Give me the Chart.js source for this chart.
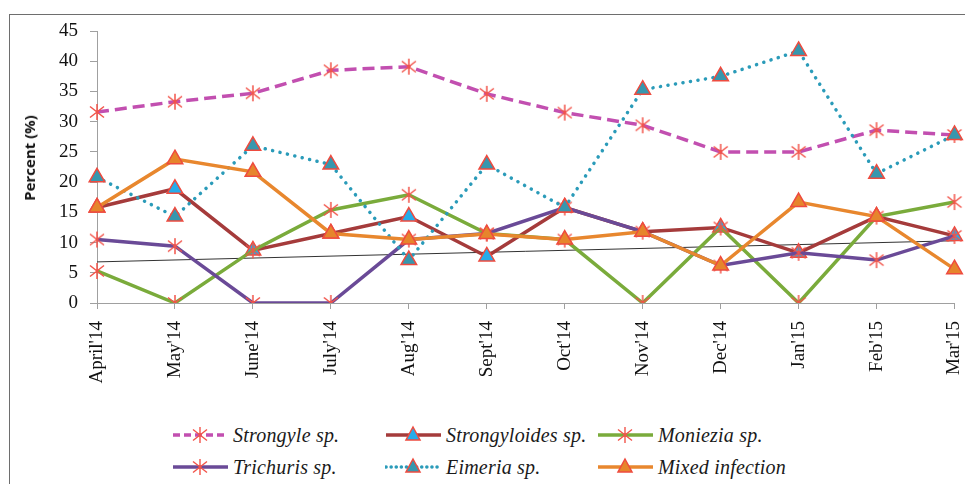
<!DOCTYPE html>
<html>
<head>
<meta charset="utf-8">
<script src="https://cdn.jsdelivr.net/npm/chart.js@4"></script>
<style>
  html, body { margin:0; padding:0; background:#fff; width:965px; height:484px; overflow:hidden; }
  #frame { position:absolute; left:9px; top:14px; width:1000px; height:520px; border:1px solid #6e6e6e; box-sizing:border-box; }
  #wrap { position:absolute; left:0; top:0; width:965px; height:400px; }
  #ytitle { position:absolute; left:29px; top:158px; transform:translate(-50%,-50%) rotate(-90deg); font-weight:bold; font-size:15px; font-family:"Open Sans", "Noto Sans", sans-serif; color:#111; white-space:nowrap; }
  .leg { position:absolute; display:flex; align-items:center; font-family:"Liberation Serif", "Times New Roman", Times, serif; font-style:italic; font-size:20px; letter-spacing:0.2px; color:#1a1a1a; white-space:nowrap; }
  .leg svg { margin-right:4px; }
</style>
</head>
<body>
<div id="frame"></div>
<div id="wrap"><canvas id="c" width="965" height="400"></canvas></div>
<div id="ytitle">Percent (%)</div>
<div id="legend"></div>
<script>
// ---- data ----
const months = ["April'14","May'14","June'14","July'14","Aug'14","Sept'14","Oct'14","Nov'14","Dec'14","Jan'15","Feb'15","Mar'15"];
const strongyle     = [31.6, 33.3, 34.7, 38.5, 39.1, 34.6, 31.5, 29.4, 25.0, 25.0, 28.6, 27.8];
const strongyloides = [15.8, 18.9, 8.7, 11.5, 14.3, 7.7, 15.8, 11.8, 12.5, 8.3, 14.3, 11.1];
const moniezia      = [5.3, 0, 8.7, 15.4, 17.9, 11.5, 10.5, 0, 12.5, 0, 14.3, 16.7];
const trichuris     = [10.5, 9.4, 0, 0, 10.5, 11.5, 15.8, 11.8, 6.2, 8.3, 7.1, 11.1];
const eimeria       = [20.8, 14.3, 26.0, 22.9, 7.1, 22.9, 15.8, 35.3, 37.5, 41.7, 21.4, 27.8];
const mixed         = [15.8, 23.8, 21.7, 11.5, 10.5, 11.4, 10.5, 11.8, 6.2, 16.7, 14.3, 5.6];
const trend         = [6.8, null, null, null, null, null, null, null, null, null, null, 10.3];
const yTicks = [0, 5, 10, 15, 20, 25, 30, 35, 40, 45];
const seriesNames = ["Strongyle sp.", "Strongyloides sp.", "Moniezia sp.", "Trichuris sp.", "Eimeria sp.", "Mixed infection"];

// ---- styles ----
const RED = '#ee4b3f';
function makeStar(){
  const c = document.createElement('canvas'); c.width = 18; c.height = 18;
  const g = c.getContext('2d');
  g.strokeStyle = '#f2544a'; g.lineWidth = 1.5;
  g.beginPath();
  g.moveTo(9, 1); g.lineTo(9, 17);
  g.moveTo(2, 3.5); g.lineTo(16, 14.5);
  g.moveTo(16, 3.5); g.lineTo(2, 14.5);
  g.stroke();
  return c;
}
const star = makeStar();

function lineDs(label, data, color, marker, fill, extra, order){
  const ds = {
    label, data, borderColor: color, borderWidth: 3.5, tension: 0, fill: false,
    order,
    pointStyle: marker === 'star' ? star : 'triangle',
    pointRadius: 9, pointHoverRadius: 9,
    pointBackgroundColor: fill || RED,
    pointBorderColor: RED, pointBorderWidth: marker === 'star' ? 0 : 1.5,
  };
  return Object.assign(ds, extra || {});
}

const datasets = [
  { label:'trend', data: trend, borderColor:'#333', borderWidth:1, pointRadius:0, spanGaps:true, order: 10 },
  lineDs(seriesNames[0], strongyle, '#c24fb0', 'star', null, { borderDash:[12,6] }, 6),
  lineDs(seriesNames[1], strongyloides, '#a53b3b', 'tri', '#26acea', null, 5),
  lineDs(seriesNames[2], moniezia, '#7aab3b', 'star', null, null, 4),
  lineDs(seriesNames[3], trichuris, '#6a4a97', 'star', null, null, 3),
  lineDs(seriesNames[4], eimeria, '#2a9bb9', 'tri', '#3797ae', { borderDash:[0.1,7.5], borderCapStyle:'round' }, 2),
  lineDs(seriesNames[5], mixed, '#e8872e', 'tri', '#e6852c', null, 1),
];

const serifFont = '"Liberation Serif", "Times New Roman", serif';

new Chart(document.getElementById('c'), {
  type: 'line',
  data: { labels: months, datasets },
  options: {
    responsive: false, animation: false,
    layout: { padding: { left: 0, top: 31, right: 4, bottom: 0 } },
    plugins: { legend: { display: false }, tooltip: { enabled: false } },
    scales: {
      x: {
        offset: false,
        grid: { display: true, drawOnChartArea: false, drawTicks: true, tickLength: 6, color: '#a0a0a0', offset: false },
        border: { display: true, color: '#a0a0a0', width: 1 },
        ticks: { color: '#111', font: { family: serifFont, size: 19 }, minRotation: 90, maxRotation: 90, padding: 12, autoSkip: false },
        afterFit: s => { s.height = 97; s.paddingLeft = 0; s.paddingRight = 0; }
      },
      y: {
        min: 0, max: 45,
        afterBuildTicks: s => { s.ticks = yTicks.map(v => ({ value: v })); },
        grid: { display: true, drawOnChartArea: false, drawTicks: true, tickLength: 7, color: '#a0a0a0' },
        border: { display: true, color: '#a0a0a0', width: 1 },
        ticks: { color: '#111', font: { family: serifFont, size: 19 }, padding: 12 },
        afterFit: s => { s.width = 97; s.paddingTop = 0; s.paddingBottom = 0; }
      }
    }
  }
});

// ---- legend (HTML) ----
const legItems = [
  { x:172, y:435, color:'#c24fb0', dash:'7 4', marker:'star', fill:null },
  { x:385, y:435, color:'#a53b3b', dash:null, marker:'tri', fill:'#26acea' },
  { x:597, y:435, color:'#7aab3b', dash:null, marker:'star', fill:null },
  { x:172, y:467, color:'#6a4a97', dash:null, marker:'star', fill:null },
  { x:385, y:467, color:'#2a9bb9', dash:'0.1 5', marker:'tri', fill:'#3797ae' },
  { x:597, y:467, color:'#e8872e', dash:null, marker:'tri', fill:'#e6852c' },
];
const legend = document.getElementById('legend');
legItems.forEach((it, i) => {
  const d = document.createElement('div');
  d.className = 'leg';
  d.style.left = it.x + 'px';
  d.style.top = (it.y - 12) + 'px';
  d.style.height = '24px';
  const dashAttr = it.dash ? ` stroke-dasharray="${it.dash}" stroke-linecap="${it.dash.startsWith('0.1') ? 'round' : 'butt'}"` : '';
  let m;
  if (it.marker === 'star') {
    m = `<path d="M28 4 L28 20 M21 6.5 L35 17.5 M35 6.5 L21 17.5" stroke="#f2544a" stroke-width="1.4" fill="none"/>`;
  } else {
    m = `<polygon points="28,4 35,17 21,17" fill="${it.fill}" stroke="${RED}" stroke-width="1.5"/>`;
  }
  d.innerHTML = `<svg width="57" height="24" viewBox="0 0 57 24"><line x1="1" y1="12" x2="56" y2="12" stroke="${it.color}" stroke-width="3.5"${dashAttr}/>${m}</svg><span>${seriesNames[i]}</span>`;
  legend.appendChild(d);
});
</script>
</body>
</html>
